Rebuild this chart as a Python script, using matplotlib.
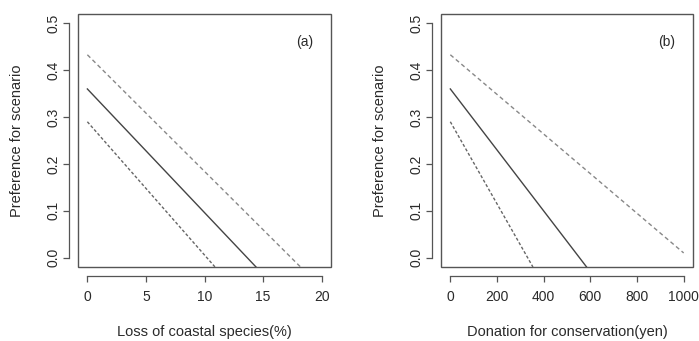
import numpy as np
import matplotlib.pyplot as plt
from matplotlib.patches import Rectangle

plt.rcParams['font.family'] = ['Liberation Sans', 'DejaVu Sans']

# panel (a): loss of coastal species (%)
loss_upper_x = [0, 18.2]
loss_upper = [0.433, -0.020]
loss_mid_x = [0, 14.4]
loss_mid = [0.360, -0.020]
loss_lower_x = [0, 10.9]
loss_lower = [0.290, -0.020]

# panel (b): donation for conservation (yen)
don_upper_x = [0, 1000]
don_upper = [0.433, 0.010]
don_mid_x = [0, 584]
don_mid = [0.360, -0.020]
don_lower_x = [0, 354]
don_lower = [0.290, -0.020]

y_ticks = [0.0, 0.1, 0.2, 0.3, 0.4, 0.5]
a_ticks = [0, 5, 10, 15, 20]
b_ticks = [0, 200, 400, 600, 800, 1000]

txt = '#2a2a2a'
edge = '#555555'
fs = 10.5


def r_style(ax, xticks, xlabel, tag):
    ax.set_ylim(-0.02, 0.52)
    span = xticks[-1] - xticks[0]
    ax.set_xlim(xticks[0] - 0.04 * span, xticks[-1] + 0.04 * span)
    for s in ['top', 'right']:
        ax.spines[s].set_visible(False)
    for s in ['left', 'bottom']:
        ax.spines[s].set_position(('outward', 6.5))
        ax.spines[s].set_color(edge)
        ax.spines[s].set_linewidth(0.9)
    ax.spines['left'].set_bounds(0, 0.5)
    ax.spines['bottom'].set_bounds(xticks[0], xticks[-1])
    ax.add_patch(Rectangle((0, 0), 1, 1, transform=ax.transAxes, fill=False,
                           edgecolor=edge, linewidth=1.0, clip_on=False))
    ax.set_yticks(y_ticks)
    ax.set_yticklabels([f'{v:.1f}' for v in y_ticks], rotation=90, va='center')
    ax.set_xticks(xticks)
    ax.set_xticklabels([str(v) for v in xticks])
    ax.tick_params(length=4.3, width=0.9, color=edge, labelsize=fs - 0.5,
                   labelcolor=txt)
    ax.tick_params(axis='x', pad=6)
    ax.tick_params(axis='y', pad=2)
    ax.set_ylabel('Preference for scenario', fontsize=fs, color=txt, va='center')
    ax.set_xlabel(xlabel, fontsize=fs, color=txt, va='center')
    ax.yaxis.set_label_coords(-0.241, 0.5)
    ax.xaxis.set_label_coords(0.5, -0.257)
    ax.text(0.897, 0.889, tag, transform=ax.transAxes, fontsize=fs - 0.5,
            color=txt, ha='center', va='center')


fig = plt.figure(figsize=(6.99, 3.41), dpi=100)
ax1 = fig.add_axes([78 / 699, 74 / 341, 253 / 699, 253 / 341])
ax2 = fig.add_axes([441 / 699, 74 / 341, 252 / 699, 253 / 341])

ax1.plot(loss_upper_x, loss_upper, color='#888888', lw=1.0, dashes=(3, 2.2))
ax1.plot(loss_mid_x, loss_mid, color='#444444', lw=1.0)
ax1.plot(loss_lower_x, loss_lower, color='#666666', lw=1.0, dashes=(2.2, 1.5))
r_style(ax1, a_ticks, 'Loss of coastal species(%)', '(a)')

ax2.plot(don_upper_x, don_upper, color='#888888', lw=1.0, dashes=(3, 2.2))
ax2.plot(don_mid_x, don_mid, color='#444444', lw=1.0)
ax2.plot(don_lower_x, don_lower, color='#666666', lw=1.0, dashes=(2.2, 1.5))
r_style(ax2, b_ticks, 'Donation for conservation(yen)', '(b)')

fig.savefig('out.png', dpi=100)
